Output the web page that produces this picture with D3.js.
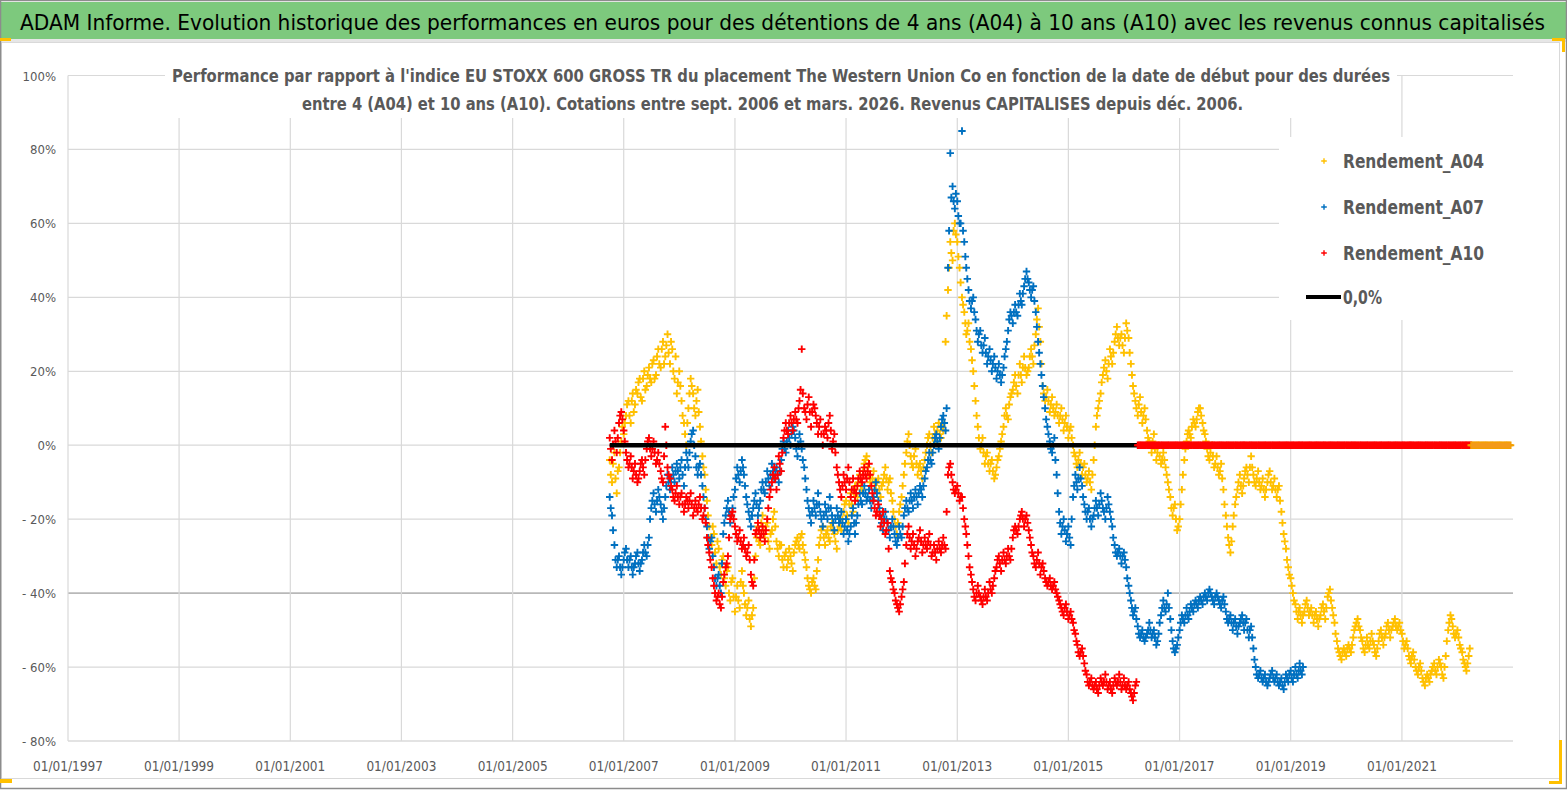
<!DOCTYPE html>
<html><head><meta charset="utf-8">
<script src="https://cdn.jsdelivr.net/npm/d3@7/dist/d3.min.js"></script>
<style>
html,body{margin:0;padding:0;background:#fff;}
svg{display:block;}
text{font-family:"DejaVu Sans Condensed","Liberation Sans Narrow","DejaVu Sans",sans-serif;}
</style></head>
<body>
<svg id="c" width="1567" height="790"></svg>
<script>
// ---------- DATA ----------
const titleText = "ADAM Informe. Evolution historique des performances en euros pour des détentions de 4 ans (A04) à 10 ans (A10) avec les revenus connus capitalisés";
const subtitle1 = "Performance par rapport à l'indice EU STOXX 600 GROSS TR  du placement The Western Union Co en fonction de la date de début pour des durées";
const subtitle2 = "entre 4 (A04) et 10 ans (A10). Cotations entre sept. 2006 et mars. 2026. Revenus CAPITALISES depuis déc. 2006.";
const seriesNames = ["Rendement_A04", "Rendement_A07", "Rendement_A10"];
const zeroName = "0,0%";
const yTicks = [-80, -60, -40, -20, 0, 20, 40, 60, 80, 100];
const xTickYears = [1997, 1999, 2001, 2003, 2005, 2007, 2009, 2011, 2013, 2015, 2017, 2019, 2021];
// first observation: 01/10/2006; main arrays hold values on the 1st and 16th of each month,
// the "...W" arrays hold the values one week later (8th and 23rd)
const firstDate = "2006-10-01";
// Rendement_A04 (%)
const a04 = [
 -4,-10,-2,-13,-6,1,
 3,8,12,6,14,11,14,18,12,20,16,21,17,23,19,26,21,28,24,30,22,26,18,14,
 20,12,6,0,10,18,14,8,15,5,-3,-8,-15,-22,-27,-24,-32,-28,-35,-30,-38,-33,-42,-36,
 -45,-38,-44,-34,-40,-46,-42,-49,-44,-30,-22,-27,-19,-25,-21,-28,-23,-18,-26,-30,-27,-33,-29,-31,
 -30,-34,-27,-25,-28,-24,-29,-33,-38,-40,-36,-39,-31,-25,-22,-27,-23,-26,-21,-24,-28,-20,-23,-18,
 -15,-21,-13,-18,-11,-14,-8,-12,-5,-3,-8,-11,-7,-12,-9,-14,-10,-6,-12,-9,-15,-20,-24,-18,
 -14,-8,-2,3,-3,-6,-1,-8,-5,-9,-4,0,3,-2,5,1,6,2,4,28,42,55,50,60,
 55,48,40,36,30,33,26,20,12,5,-1,2,-5,-2,-7,-4,-9,-6,-3,1,5,10,7,13,
 15,19,14,22,17,24,19,21,26,22,30,37,28,16,12,15,9,13,8,11,6,10,4,8,
 2,5,0,-3,-6,-2,-8,-5,-10,-7,-12,-4,5,10,14,19,23,18,26,22,28,32,27,30,
 25,33,29,22,16,12,8,13,6,10,4,1,-2,3,-4,0,-5,-2,-6,-10,-14,-19,-16,-23,
 -20,-12,-4,1,4,2,7,5,9,10,6,3,-1,-4,0,-6,-3,-8,-5,-12,-19,-25,-29,-22,
 -16,-12,-8,-13,-9,-6,-10,-3,-8,-11,-7,-12,-9,-14,-10,-7,-12,-9,-14,-11,-18,-24,-28,-33,
 -36,-40,-43,-47,-44,-48,-45,-42,-46,-44,-48,-45,-49,-46,-43,-47,-41,-39,-44,-48,-53,-56,-58,-55,
 -57,-54,-56,-52,-49,-47,-50,-53,-56,-52,-55,-51,-54,-57,-53,-50,-54,-51,-48,-52,-49,-47,-50,-48,
 -51,-55,-53,-57,-59,-56,-60,-62,-59,-63,-65,-62,-64,-61,-59,-62,-58,-60,-63,-57,-50,-46,-49,-52,
 -50,-54,-56,-59,-61,-57
];
const a04W = [
 -8,-5,-9,-7,-2,5,
 6,11,8,12,9,15,17,13,18,15,19,18,22,18,24,22,26,22,27,25,28,20,24,17,
 16,8,3,6,14,16,10,12,9,1,-6,-12,-19,-25,-22,-29,-26,-33,-31,-36,-34,-40,-37,-41,
 -41,-42,-37,-38,-43,-44,-47,-46,-36,-25,-26,-21,-23,-22,-26,-24,-20,-22,-28,-27,-31,-30,-33,-28,
 -32,-29,-26,-27,-25,-27,-31,-36,-39,-37,-38,-34,-27,-23,-25,-24,-25,-22,-23,-26,-23,-22,-20,-16,
 -19,-16,-16,-13,-13,-10,-11,-7,-4,-6,-10,-9,-10,-10,-12,-11,-8,-9,-10,-13,-18,-22,-21,-16,
 -11,-5,1,0,-5,-3,-5,-6,-7,-6,-2,2,0,2,3,4,3,5,6,35,48,52,58,57,
 51,44,38,33,31,28,23,16,8,2,0,-2,-3,-5,-5,-7,-8,-4,-1,3,8,8,11,14,
 17,16,19,19,21,21,20,24,24,27,34,32,22,14,13,12,11,10,9,8,8,7,6,5,
 4,2,-2,-5,-4,-5,-6,-8,-9,-10,-8,0,8,12,17,21,20,22,24,25,30,29,29,27,
 29,31,25,19,14,10,11,9,8,7,2,0,1,-1,-2,-3,-4,-4,-8,-12,-17,-17,-20,-22,
 -16,-8,-1,3,3,5,6,7,10,8,4,1,-3,-2,-3,-5,-6,-7,-9,-16,-22,-27,-26,-19,
 -14,-10,-11,-11,-7,-8,-6,-6,-10,-9,-10,-11,-12,-12,-8,-10,-11,-12,-12,-15,-21,-26,-31,-35,
 -38,-42,-45,-45,-46,-46,-43,-44,-45,-46,-46,-47,-47,-44,-45,-44,-40,-42,-46,-51,-55,-57,-56,-56,
 -55,-55,-54,-50,-48,-49,-52,-55,-54,-54,-53,-53,-56,-55,-51,-52,-52,-49,-50,-50,-48,-49,-49,-50,
 -53,-54,-55,-58,-57,-58,-61,-60,-61,-64,-63,-63,-62,-60,-61,-60,-59,-62,-60,-53,-48,-47,-51,-51,
 -52,-55,-58,-60,-59,-55
];
// Rendement_A07 (%)
const a07 = [
 -14,-19,-27,-33,-30,-35,
 -31,-28,-33,-30,-35,-32,-29,-34,-31,-27,-30,-25,-17,-13,-18,-12,-16,-20,-14,-8,-12,-6,-10,-5,
 -9,-4,-11,-2,-6,1,4,-3,-8,-5,-11,-17,-22,-28,-25,-33,-38,-35,-40,-24,-19,-15,-21,-17,
 -12,-6,-10,-4,-8,-14,-18,-22,-17,-13,-19,-15,-10,-13,-7,-11,-5,-9,-6,-10,-4,1,-2,4,
 0,5,2,-3,3,-1,-6,-12,-17,-21,-15,-19,-13,-18,-22,-16,-20,-14,-19,-23,-17,-21,-18,-24,
 -20,-26,-22,-17,-24,-19,-13,-16,-11,-15,-12,-17,-14,-10,-15,-19,-23,-18,-21,-25,-20,-24,-27,-22,
 -25,-19,-15,-18,-13,-17,-12,-16,-11,-14,-9,-6,-2,-5,0,3,-1,5,8,4,48,79,70,64,
 66,60,85,55,48,42,37,40,34,28,31,25,29,22,26,20,24,18,22,17,21,26,31,36,
 33,38,35,41,38,43,47,44,40,43,36,28,22,16,10,5,1,-2,2,-8,-18,-24,-20,-26,
 -22,-27,-14,-8,-12,-6,-11,-16,-20,-17,-22,-19,-15,-19,-13,-17,-20,-14,-18,-22,-27,-30,-28,-32,
 -29,-33,-38,-42,-46,-44,-49,-52,-50,-53,-51,-48,-52,-50,-54,-51,-46,-42,-45,-40,-47,-53,-56,-54,
 -50,-46,-48,-44,-47,-43,-45,-42,-44,-41,-43,-40,-42,-39,-41,-43,-40,-42,-44,-41,-45,-48,-46,-50,
 -47,-51,-48,-46,-50,-47,-52,-49,-55,-60,-63,-61,-64,-62,-65,-63,-61,-64,-62,-65,-63,-66,-62,-64,
 -61,-64,-60,-63,-59,-62
];
const a07W = [
 -17,-23,-31,-31,-33,-33,
 -29,-31,-31,-33,-33,-30,-32,-32,-29,-29,-27,-20,-15,-16,-15,-14,-18,-17,-11,-10,-9,-8,-7,-7,
 -6,-8,-6,-4,-2,3,0,-6,-6,-8,-14,-20,-25,-26,-30,-36,-36,-38,-32,-21,-17,-18,-19,-14,
 -9,-8,-7,-6,-11,-16,-20,-19,-15,-16,-17,-12,-12,-10,-9,-8,-7,-7,-8,-7,-1,-1,1,2,
 3,4,-1,0,1,-4,-9,-15,-19,-18,-17,-16,-16,-20,-19,-18,-17,-17,-21,-20,-19,-20,-21,-22,
 -23,-24,-19,-21,-21,-16,-15,-13,-13,-14,-15,-15,-12,-13,-17,-21,-20,-20,-23,-22,-22,-26,-25,-24,
 -22,-17,-17,-15,-15,-14,-14,-13,-12,-11,-7,-4,-4,-2,2,1,2,7,6,10,58,67,66,68,
 62,60,58,51,45,39,39,36,31,30,27,27,25,24,23,22,21,20,19,19,24,28,34,35,
 36,36,38,39,41,45,45,42,42,39,32,25,19,13,7,3,-1,0,-4,-13,-21,-22,-23,-24,
 -25,-20,-11,-10,-9,-9,-14,-18,-18,-20,-20,-17,-17,-16,-15,-18,-17,-16,-20,-25,-29,-29,-30,-30,
 -31,-36,-40,-44,-45,-47,-51,-51,-52,-52,-50,-50,-51,-52,-53,-48,-44,-44,-43,-44,-50,-55,-55,-52,
 -48,-47,-46,-46,-45,-44,-43,-43,-42,-42,-41,-41,-40,-40,-42,-41,-41,-43,-42,-43,-47,-47,-48,-48,
 -49,-49,-47,-48,-48,-50,-50,-52,-58,-62,-62,-63,-63,-64,-64,-62,-63,-63,-64,-64,-65,-64,-63,-62,
 -63,-62,-62,-61,-61,-60
];
// Rendement_A10 (%)
const a10 = [
 2,-4,4,-2,6,9,
 4,-2,-6,-3,-9,-5,-10,-7,-4,-8,-1,2,-3,1,-5,-2,-7,-10,5,-6,-9,-12,-15,-11,
 -16,-13,-18,-14,-17,-13,-19,-15,-18,-14,-20,-17,-25,-29,-33,-38,-42,-40,-44,-37,-33,-30,-20,-18,
 -22,-26,-23,-28,-25,-30,-27,-35,-38,-24,-21,-25,-22,-26,-20,-14,-10,-6,-12,-3,-7,2,6,3,
 8,4,9,6,12,26,10,7,13,5,11,8,3,7,0,5,2,8,-1,3,-6,-10,-14,-8,
 -12,-6,-14,-9,-15,-11,-7,-10,-6,-9,-5,-11,-15,-19,-16,-22,-18,-24,-21,-34,-37,-40,-43,-45,
 -41,-37,-27,-22,-28,-24,-30,-26,-23,-29,-25,-28,-24,-30,-27,-31,-26,-29,-25,-28,-8,-5,-10,-13,
 -11,-15,-14,-20,-24,-30,-35,-39,-42,-38,-41,-43,-39,-42,-37,-40,-36,-33,-30,-34,-29,-32,-28,-31,
 -25,-22,-24,-20,-18,-22,-19,-23,-27,-30,-33,-29,-35,-32,-36,-38,-36,-39,-37,-40,-42,-44,-46,-43,
 -47,-45,-48,-51,-54,-57,-55,-59,-62,-65,-63,-66,-64,-67,-63,-65,-62,-66,-64,-67,-63,-65,-62,-66,
 -63,-66,-64,-67,-69,-65
];
const a10W = [
 -1,0,1,2,8,7,
 1,-4,-5,-6,-7,-8,-9,-5,-6,-4,1,-1,-1,-2,-4,-5,-9,-3,0,-8,-11,-14,-13,-14,
 -14,-16,-16,-15,-15,-16,-17,-17,-16,-17,-19,-21,-27,-31,-36,-40,-41,-43,-41,-35,-32,-25,-19,-20,
 -24,-25,-26,-27,-28,-29,-31,-37,-31,-23,-23,-24,-24,-23,-17,-12,-8,-9,-8,-5,-2,4,4,6,
 6,7,7,10,15,14,9,11,9,9,10,6,5,3,3,4,6,4,1,-2,-8,-12,-11,-10,
 -9,-10,-12,-12,-13,-9,-9,-8,-8,-7,-8,-13,-17,-18,-19,-20,-21,-23,-28,-36,-39,-42,-44,-43,
 -39,-32,-24,-25,-26,-27,-28,-25,-26,-27,-27,-26,-27,-29,-29,-28,-28,-27,-27,-18,-6,-8,-12,-12,
 -13,-14,-17,-22,-27,-33,-37,-41,-40,-40,-42,-41,-41,-40,-39,-38,-34,-31,-32,-31,-31,-30,-30,-28,
 -23,-23,-22,-19,-20,-20,-21,-25,-29,-32,-31,-32,-33,-34,-37,-37,-38,-38,-39,-41,-43,-45,-44,-45,
 -46,-47,-50,-53,-56,-56,-57,-61,-64,-64,-65,-65,-66,-65,-64,-64,-64,-65,-66,-65,-64,-64,-64,-65,
 -65,-65,-66,-68,-67,-64
];
// periods where the file carries 0 values (no full holding period available)
const zeroTailA10 = ["2016-04-01", "2022-04-01"];
const zeroTailA04 = ["2022-04-01", "2022-12-16"];
const zeroLineRange = ["2006-10-01", "2016-04-01"];
const xDomain = ["1997-01-01", "2023-01-01"];
const yDomain = [-80, 100];

// ---------- DRAW ----------
const W = 1567, H = 790;
const svg = d3.select("#c");
const parse = d3.timeParse("%Y-%m-%d");
const colors = {A04: "#FFC000", A07: "#0070C0", A10: "#FF0000"};
const grey = "#595959";

const x = d3.scaleTime().domain(xDomain.map(parse)).range([68, 1513]);
const y = d3.scaleLinear().domain(yDomain).range([741, 75.5]);

const d0 = parse(firstDate);
const dateAt = (i, shift) => new Date(d0.getFullYear(), d0.getMonth() + Math.floor(i / 2), (i % 2 ? 16 : 1) + shift);
const toPts = (arr, shift) => arr.map((v, i) => ({date: dateAt(i, shift), v}));
const halfMonths = (a, b) => {
  const out = []; const s = parse(a), e = parse(b);
  let d = new Date(s);
  while (d <= e) {
    out.push({date: new Date(d), v: 0});
    out.push({date: new Date(d.getFullYear(), d.getMonth(), d.getDate() + 7), v: 0});
    d = d.getDate() === 1 ? new Date(d.getFullYear(), d.getMonth(), 16) : new Date(d.getFullYear(), d.getMonth() + 1, 1);
  }
  return out.filter(p => p.date <= e);
};

// background and title band
svg.append("rect").attr("x", 0).attr("y", 0).attr("width", W).attr("height", H).attr("fill", "#fff");
svg.append("rect").attr("x", 0).attr("y", 2).attr("width", W).attr("height", 37).attr("fill", "#7DC97D");
svg.append("rect").attr("x", 0).attr("y", 39).attr("width", W).attr("height", 3).attr("fill", "#e6e6e6");
svg.append("text").attr("x", 20).attr("y", 30).attr("font-size", 21).attr("fill", "#000")
  .attr("textLength", 1525).attr("lengthAdjust", "spacingAndGlyphs").text(titleText);
// chart area border and outer frame
svg.append("rect").attr("x", 1.5).attr("y", 42.5).attr("width", 1558).attr("height", 736)
  .attr("fill", "none").attr("stroke", "#d9d9d9").attr("stroke-width", 1);
svg.append("rect").attr("x", 0.5).attr("y", 0.5).attr("width", W - 1).attr("height", H - 2)
  .attr("fill", "none").attr("stroke", "#8c8c8c").attr("stroke-width", 1.5);

// gridlines
const g = svg.append("g");
g.selectAll(".hg").data(yTicks).join("line")
  .attr("x1", 68).attr("x2", 1513).attr("y1", d => y(d)).attr("y2", d => y(d))
  .attr("stroke", d => d === -40 ? "#b8b8b8" : (d === -80 ? "#c8c8c8" : "#d9d9d9")).attr("stroke-width", d => d === -40 ? 1.6 : 1.2);
g.selectAll(".vg").data(xTickYears).join("line")
  .attr("x1", d => x(new Date(d, 0, 1))).attr("x2", d => x(new Date(d, 0, 1)))
  .attr("y1", y(100)).attr("y2", y(-80)).attr("stroke", "#d9d9d9").attr("stroke-width", 1.2);

// y tick labels
svg.selectAll(".yl").data(yTicks).join("text")
  .attr("x", 56).attr("y", d => y(d) + 5).attr("text-anchor", "end")
  .attr("font-size", 13).attr("fill", grey)
  .text(d => d < 0 ? "- " + Math.abs(d) + "%" : d + "%");
// x tick labels
svg.selectAll(".xl").data(xTickYears).join("text")
  .attr("x", d => x(new Date(d, 0, 1))).attr("y", 771).attr("text-anchor", "middle")
  .attr("font-size", 14).attr("fill", grey)
  .attr("textLength", 70).attr("lengthAdjust", "spacingAndGlyphs")
  .text(d => d3.timeFormat("%d/%m/%Y")(new Date(d, 0, 1)));

// subtitle box (covers gridlines)
svg.append("rect").attr("x", 165).attr("y", 56).attr("width", 1232).attr("height", 62).attr("fill", "#fff");
svg.append("text").attr("x", 172).attr("y", 82).attr("font-size", 17).attr("font-weight", "bold").attr("fill", grey)
  .attr("textLength", 1218).attr("lengthAdjust", "spacingAndGlyphs").text(subtitle1);
svg.append("text").attr("x", 302).attr("y", 110).attr("font-size", 17).attr("font-weight", "bold").attr("fill", grey)
  .attr("textLength", 941).attr("lengthAdjust", "spacingAndGlyphs").text(subtitle2);

// markers
const plus = s => `M${-s},0H${s}M0,${-s}V${s}`;
const plot = svg.append("g");
function drawSeries(pts, color) {
  plot.append("g").selectAll("path").data(pts).join("path")
    .attr("transform", d => `translate(${x(d.date)},${y(d.v)})`)
    .attr("d", plus(3.7)).attr("stroke", color).attr("stroke-width", 1.9)
    .attr("fill", "none");
}
drawSeries(toPts(a04, 0).concat(toPts(a04W, 7)), colors.A04);
drawSeries(toPts(a07, 0).concat(toPts(a07W, 7)), colors.A07);
drawSeries(toPts(a10, 0).concat(toPts(a10W, 7)), colors.A10);
// 0% reference line
plot.append("line").attr("x1", x(parse(zeroLineRange[0]))).attr("x2", x(parse(zeroLineRange[1])))
  .attr("y1", y(0)).attr("y2", y(0)).attr("stroke", "#000").attr("stroke-width", 4.5);
// zero-valued tails
drawSeries(halfMonths(zeroTailA10[0], zeroTailA10[1]), colors.A10);
plot.append("line").attr("x1", x(parse(zeroTailA10[0]))).attr("x2", x(parse(zeroTailA10[1])))
  .attr("y1", y(0)).attr("y2", y(0)).attr("stroke", colors.A10).attr("stroke-width", 5);
drawSeries(halfMonths(zeroTailA04[0], zeroTailA04[1]), "#F4A000");
plot.append("line").attr("x1", x(parse(zeroTailA04[0]))).attr("x2", x(parse(zeroTailA04[1])))
  .attr("y1", y(0)).attr("y2", y(0)).attr("stroke", "#F39A1A").attr("stroke-width", 5);

// legend
const lg = svg.append("g");
lg.append("rect").attr("x", 1279).attr("y", 137).attr("width", 234).attr("height", 183).attr("fill", "#fff");
const legendItems = [
  {name: seriesNames[0], color: colors.A04},
  {name: seriesNames[1], color: colors.A07},
  {name: seriesNames[2], color: colors.A10}
];
legendItems.forEach((it, i) => {
  const yy = 161 + i * 46;
  lg.append("path").attr("transform", `translate(1324,${yy})`).attr("d", plus(2.8))
    .attr("stroke", it.color).attr("stroke-width", 1.4).attr("fill", "none");
  lg.append("text").attr("x", 1343).attr("y", yy + 7).attr("font-size", 19).attr("font-weight", "bold")
    .attr("fill", grey).attr("textLength", 141).attr("lengthAdjust", "spacingAndGlyphs").text(it.name);
});
lg.append("line").attr("x1", 1306).attr("x2", 1341).attr("y1", 297).attr("y2", 297)
  .attr("stroke", "#000").attr("stroke-width", 4);
lg.append("text").attr("x", 1343).attr("y", 304).attr("font-size", 19).attr("font-weight", "bold")
  .attr("fill", grey).attr("textLength", 39).attr("lengthAdjust", "spacingAndGlyphs").text(zeroName);

// selection handles (yellow)
const hy = "#FFC000";
[[0, 38, 11, 3], [1552, 38, 13, 3], [1562, 38, 3, 14], [1559, 740, 3, 44], [1549, 781, 13, 3], [0, 779, 12, 4]]
  .forEach(r => svg.append("rect").attr("x", r[0]).attr("y", r[1]).attr("width", r[2]).attr("height", r[3]).attr("fill", hy));
</script>
</body></html>
